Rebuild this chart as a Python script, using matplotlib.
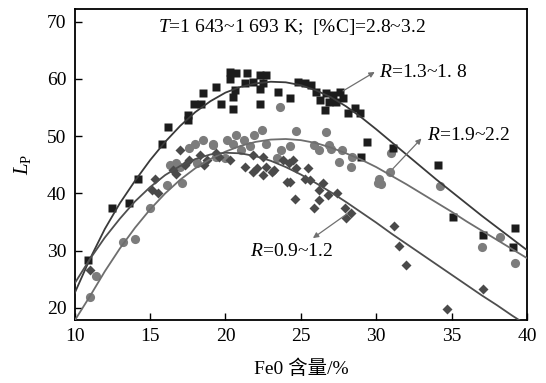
# -*- coding: utf-8 -*-

import matplotlib
matplotlib.use("Agg")
import matplotlib.pyplot as plt

OUTPUT_PATH = "out.png"

# scatter data (FeO %, Lp)
square_x = [10.9, 12.5, 13.6, 14.2, 15.8, 16.2, 17.5, 17.5, 17.9, 18.4, 18.5, 19.4, 19.7, 20.3, 20.3, 20.5,
            20.7, 20.6, 20.5, 21.4, 21.3, 21.8, 22.3, 22.7, 22.5, 22.3, 22.3, 23.5, 24.3, 24.8, 25.3, 25.7,
            26.0, 26.7, 26.3, 26.9, 26.6, 27.1, 27.6, 27.3, 27.8, 28.1, 28.6, 28.9, 29.4, 29.0, 31.1, 34.1,
            35.1, 37.1, 39.2, 39.1]
square_y = [28.4, 37.5, 38.4, 42.6, 48.7, 51.6, 53.7, 52.9, 55.7, 55.7, 57.5, 58.6, 55.7, 61.2, 59.9, 54.7,
            61.0, 58.0, 56.9, 61.0, 59.2, 59.5, 60.7, 60.7, 59.2, 58.3, 55.7, 57.7, 56.6, 59.5, 59.2, 58.9,
            57.7, 57.5, 56.3, 56.0, 54.6, 57.2, 57.7, 56.0, 56.6, 54.0, 54.9, 54.0, 49.0, 46.4, 47.9, 45.0,
            35.9, 32.7, 33.9, 30.7]

circle_x = [11.0, 11.4, 13.2, 14.0, 15.0, 16.1, 17.1, 16.3, 16.7, 17.0, 18.1, 19.4, 20.0, 18.5, 19.2, 20.1,
            20.7, 17.6, 18.0, 19.2, 23.6, 24.7, 26.7, 22.4, 21.9, 25.9, 26.2, 26.9, 24.3, 23.7, 23.4, 22.7,
            20.5, 21.2, 21.0, 21.6, 27.5, 31.0, 27.0, 27.7, 28.4, 28.3, 30.2, 30.1, 30.3, 30.9, 34.2, 38.2,
            37.0, 39.2]
circle_y = [22.0, 25.6, 31.5, 32.0, 37.4, 41.5, 41.8, 45.0, 45.3, 44.7, 45.3, 46.4, 46.1, 49.3, 48.4, 49.3,
            50.2, 47.9, 48.7, 48.7, 55.1, 50.9, 50.8, 51.1, 50.2, 48.4, 47.6, 48.4, 48.2, 47.6, 46.1, 48.7,
            48.7, 49.3, 47.6, 48.2, 45.5, 47.0, 47.7, 47.6, 46.4, 44.7, 42.6, 41.8, 41.6, 43.8, 41.3, 32.4,
            30.7, 27.9]

diamond_x = [11.0, 15.3, 15.1, 15.5, 16.7, 17.3, 17.6, 18.3, 18.8, 18.6, 19.4, 19.6, 20.3, 21.3, 21.8, 22.5,
             22.1, 22.7, 23.1, 23.8, 24.5, 24.7, 25.5, 24.1, 25.6, 26.5, 21.8, 22.5, 23.2, 24.2, 24.3, 25.3,
             26.2, 27.4, 26.8, 24.6, 26.2, 25.9, 27.9, 28.3, 28.0, 31.2, 31.5, 32.0, 37.1, 34.7, 17.0, 16.5]
diamond_y = [26.7, 42.5, 40.6, 40.1, 43.4, 45.0, 45.8, 46.7, 45.8, 45.0, 47.0, 46.4, 45.8, 44.7, 46.7, 46.4,
             44.4, 44.7, 43.8, 45.8, 45.8, 44.4, 44.4, 42.0, 42.3, 41.8, 43.8, 43.2, 44.1, 45.3, 42.0, 42.6,
             40.6, 40.0, 39.7, 39.0, 38.8, 37.4, 37.4, 36.5, 35.7, 34.3, 30.8, 27.5, 23.3, 19.8, 47.5, 44.1]

# fitted curves at each integer FeO value
curve_x = list(range(10, 41))
curve_square = [22.6, 28.5, 33.8, 38.3, 42.2, 45.8, 49.0, 51.8, 54.2, 56.1, 57.6, 58.6, 59.2, 59.5, 59.4, 58.9,
                58.0, 56.8, 55.2, 53.3, 51.2, 49.0, 46.8, 44.6, 42.4, 40.3, 38.2, 36.1, 34.1, 32.1, 30.1]
curve_circle = [17.8, 22.0, 26.4, 30.4, 34.0, 37.2, 40.0, 42.4, 44.4, 46.0, 47.3, 48.3, 49.0, 49.4, 49.5, 49.3,
                48.8, 48.0, 47.0, 45.9, 44.6, 43.1, 41.6, 40.0, 38.4, 36.8, 35.1, 33.5, 31.9, 30.3, 28.7]
curve_diamond = [24.3, 28.5, 32.3, 35.6, 38.6, 41.1, 43.2, 44.8, 46.0, 46.8, 47.1, 47.0, 46.5, 45.7, 44.6, 43.3,
                 41.8, 40.2, 38.5, 36.7, 34.9, 33.0, 31.2, 29.4, 27.6, 25.8, 24.0, 22.2, 20.5, 18.7, 17.0]

x_ticks = [10, 15, 20, 25, 30, 35, 40]
y_ticks = [20, 30, 40, 50, 60, 70]

SERIF = ["Liberation Serif", "Noto Sans CJK SC", "DejaVu Sans"]


def main():
    plt.rcParams["font.family"] = SERIF
    plt.rcParams["mathtext.fontset"] = "custom"
    plt.rcParams["mathtext.rm"] = "Liberation Serif"
    plt.rcParams["mathtext.it"] = "Liberation Serif:italic"

    fig = plt.figure(figsize=(5.46, 3.83), dpi=100)
    ax = fig.add_axes([0.1368, 0.1645, 0.8284, 0.812])

    ax.plot(circle_x, circle_y, "o", ms=6.6, color="#7c7c7c", mec="none", zorder=2)
    ax.plot(diamond_x, diamond_y, "D", ms=5.6, color="#4a4a4a", mec="none", zorder=3)
    ax.plot(square_x, square_y, "s", ms=5.8, color="#1c1c1c", mec="none", zorder=4)

    ax.plot(curve_x, curve_square, "-", color="#3a3a3a", lw=1.3, zorder=5)
    ax.plot(curve_x, curve_circle, "-", color="#6e6e6e", lw=1.3, zorder=5)
    ax.plot(curve_x, curve_diamond, "-", color="#4e4e4e", lw=1.3, zorder=5)

    arrow = dict(arrowstyle="-|>", color="#707070", lw=0.9, mutation_scale=8, shrinkA=0, shrinkB=0)
    ax.annotate("", xy=(29.9, 61.2), xytext=(27.8, 57.9), arrowprops=arrow, zorder=6)
    ax.annotate("", xy=(33.0, 49.6), xytext=(31.1, 44.3), arrowprops=arrow, zorder=6)
    ax.annotate("", xy=(25.8, 32.2), xytext=(28.1, 36.5), arrowprops=arrow, zorder=6)

    ax.text(30.2, 61.2, r"$R$=1.3~1. 8", fontsize=14, va="center", ha="left")
    ax.text(33.4, 50.2, r"$R$=1.9~2.2", fontsize=14, va="center", ha="left")
    ax.text(21.6, 29.8, r"$R$=0.9~1.2", fontsize=14, va="center", ha="left")
    ax.text(15.5, 69.0, r"$T$=1 643~1 693 K;  [%C]=2.8~3.2", fontsize=14, va="center", ha="left")

    ax.set_xlim(10, 40)
    ax.set_ylim(17.9, 72.2)
    ax.set_xticks(x_ticks)
    ax.set_yticks(y_ticks)
    ax.tick_params(direction="in", length=5, width=1, labelsize=14, pad=6)
    for s in ax.spines.values():
        s.set_linewidth(1.3)

    ax.set_xlabel("Fe0 含量/%", fontsize=14, labelpad=10)
    ax.set_ylabel(r"$L_\mathrm{P}$", fontsize=15, labelpad=10)

    fig.savefig(OUTPUT_PATH, dpi=100)


if __name__ == "__main__":
    main()
